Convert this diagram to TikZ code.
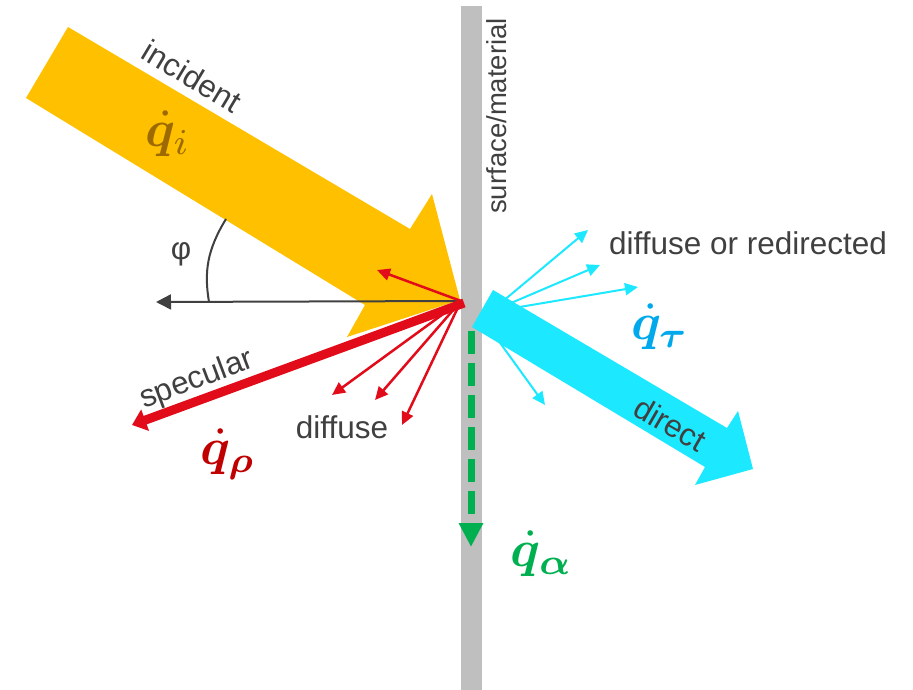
\documentclass[tikz,border=0pt]{standalone}
\usepackage{amsmath}
\usepackage{bm}
\usepackage{graphicx}
\usepackage{fontspec}
\setmainfont{Liberation Sans}
\usetikzlibrary{arrows.meta}
\definecolor{incY}{HTML}{FFC000}
\definecolor{incQ}{HTML}{9C6A00}
\definecolor{surfG}{HTML}{BFBFBF}
\definecolor{txtG}{HTML}{404040}
\definecolor{refR}{HTML}{E20B1A}
\definecolor{refQ}{HTML}{C00000}
\definecolor{trC}{HTML}{1CE8FF}
\definecolor{trQ}{HTML}{00A8EC}
\definecolor{abG}{HTML}{00B050}
\newcommand{\bigq}[1]{\scalebox{5.2}{$\dot{\bm q}_{#1}$}}
\tikzset{
  lbl/.style={inner sep=0pt, text=txtG, font=\fontsize{31.5pt}{37pt}\selectfont},
  qlbl/.style={inner sep=0pt},
  thinred/.style={draw=refR, line width=2.5pt, -{Triangle[length=13pt,width=12pt]}},
  thincyan/.style={draw=trC, line width=2pt, -{Triangle[length=13pt,width=12pt]}},
}
\begin{document}
\begin{tikzpicture}[x=1pt,y=-1pt]
\useasboundingbox (0,0) rectangle (913,690);
% surface
\fill[surfG] (461,6) rectangle (482,690);
\coordinate (hit) at (461,301);
% incident arrow
\fill[incY] (68,27) -- (410,229) -- (432,194) -- (460,300) -- (347,337) -- (365,305) -- (26,98) -- cycle;
% normal and angle
\coordinate (nrm) at (156,302);
\draw[txtG, line width=2pt, -{Triangle[length=15pt,width=15pt]}] (hit) -- (nrm);
\coordinate (a1) at (209,302);
\coordinate (a2) at (226,219);
\draw[txtG, line width=2pt] (a1) .. controls (204,272) and (207,250) .. (a2);
\node[lbl] (phi) at (181,254) {φ};
% diffuse reflection
\coordinate (d1) at (377,270);
\coordinate (d2) at (332,395);
\coordinate (d3) at (375,400);
\coordinate (d4) at (402,425);
\foreach \t in {d1,d2,d3,d4} \draw[thinred] (hit) -- (\t);
% specular
\coordinate (sp0) at (464,303);
\coordinate (sp1) at (132,425);
\draw[refR, line width=9pt, -{Triangle[length=14pt,width=22pt]}] (sp0) -- (sp1);
% absorbed
\coordinate (ab0) at (471,331);
\coordinate (ab1) at (471,547);
\draw[abG, line width=7pt, dash pattern=on 23pt off 9pt, -{Triangle[length=24pt,width=23pt]}] (ab0) -- (ab1);
% transmitted diffuse
\coordinate (t0) at (490,312);
\coordinate (t4s) at (485,322);
\coordinate (c1) at (588,230);
\coordinate (c2) at (600,265);
\coordinate (c3) at (638,287);
\coordinate (c4) at (545,405);
\foreach \t in {c1,c2,c3} \draw[thincyan] (t0) -- (\t);
\draw[thincyan] (t4s) -- (c4);
% direct transmitted arrow
\fill[trC] (493,290) -- (727,428) -- (738,411) -- (753,469) -- (695,485) -- (705,467) -- (472,327) -- cycle;
% labels
\node[lbl, rotate=-31] (inc) at (192,76) {incident};
\node[lbl, rotate=20.6] (spec) at (197,380) {specular};
\node[lbl] (diff) at (342,427) {diffuse};
\node[lbl] (dor) at (748,243) {diffuse or redirected};
\node[lbl, rotate=-30] (dir) at (670,424) {direct};
\node[lbl, rotate=90, font=\fontsize{27.5pt}{33pt}\selectfont] (surf) at (497,116) {surface/material};
\node[qlbl, text=incQ] (qi) at (168,134) {\bigq{i}};
\node[qlbl, text=refQ] (qr) at (228,454) {\bigq{\bm\rho}};
\node[qlbl, text=trQ] (qt) at (660,327) {\bigq{\bm\tau}};
\node[qlbl, text=abG] (qa) at (542,554) {\bigq{\bm\alpha}};
\end{tikzpicture}
\end{document}
